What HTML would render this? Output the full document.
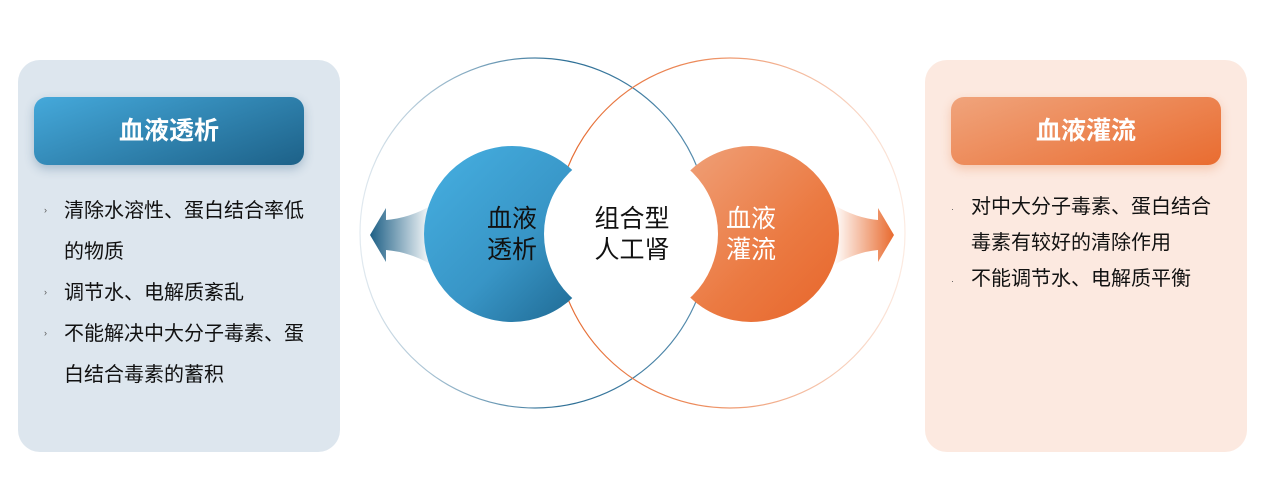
<!DOCTYPE html>
<html><head><meta charset="utf-8"><style>
*{margin:0;padding:0;box-sizing:border-box}
body{width:1269px;height:484px;background:#fff;position:relative;overflow:hidden;font-family:"Liberation Sans","Noto Sans CJK SC",sans-serif}
.box{position:absolute;top:60px;width:322px;height:392px;border-radius:22px}
.hd{position:absolute;top:37px;left:16px;width:270px;height:68px;border-radius:13px;color:#fff;font-weight:bold;font-size:25px;text-align:center;line-height:68px}
.li{position:absolute;font-size:20px;color:#111;white-space:nowrap}
.dot{position:absolute;font-size:9px;color:#555}
</style></head><body>
<div class="box" style="left:18px;background:#dde6ee">
  <div class="hd" style="background:linear-gradient(160deg,#45a9db,#1d6188);box-shadow:0 4px 10px rgba(40,90,130,.3)">血液透析</div>
</div>
<div class="li" style="left:64px;top:191px;line-height:41px">清除水溶性、蛋白结合率低<br>的物质<br>调节水、电解质紊乱<br>不能解决中大分子毒素、蛋<br>白结合毒素的蓄积</div>
<div class="dot" style="left:44px;top:205px">›</div>
<div class="dot" style="left:44px;top:287px">›</div>
<div class="dot" style="left:44px;top:328px">›</div>

<div class="box" style="left:925px;background:#fce9e0">
  <div class="hd" style="left:26px;top:37px;width:270px;background:linear-gradient(160deg,#f0a47c,#e96c30);box-shadow:0 4px 10px rgba(230,120,60,.3)">血液灌流</div>
</div>
<div class="li" style="left:971px;top:189px;line-height:36px">对中大分子毒素、蛋白结合<br>毒素有较好的清除作用<br>不能调节水、电解质平衡</div>
<div class="dot" style="left:951px;top:204px">·</div>
<div class="dot" style="left:951px;top:276px">·</div>

<svg width="1269" height="484" style="position:absolute;left:0;top:0">
<defs>
<linearGradient id="lc" x1="0" x2="1"><stop offset="0" stop-color="#e2eaf0"/><stop offset=".6" stop-color="#2c6e95"/><stop offset="1" stop-color="#5a8fb0"/></linearGradient>
<linearGradient id="rc" x1="0" x2="1"><stop offset="0" stop-color="#e56a30"/><stop offset=".4" stop-color="#ec8a5a"/><stop offset="1" stop-color="#fcebe2"/></linearGradient>
<linearGradient id="la" x1="0" x2="1"><stop offset="0" stop-color="#1d5f85"/><stop offset="1" stop-color="#1d5f85" stop-opacity="0"/></linearGradient>
<linearGradient id="ra" x1="1" x2="0"><stop offset="0" stop-color="#e86a2e"/><stop offset="1" stop-color="#e86a2e" stop-opacity="0"/></linearGradient>
<linearGradient id="bc" x1="0" y1="0" x2="1" y2="1"><stop offset="0" stop-color="#46b0e2"/><stop offset=".55" stop-color="#3895c6"/><stop offset="1" stop-color="#1b628a"/></linearGradient>
<linearGradient id="oc" x1="0" y1="0" x2="1" y2="1"><stop offset="0" stop-color="#f0a57f"/><stop offset=".6" stop-color="#eb7a42"/><stop offset="1" stop-color="#e7652a"/></linearGradient>
</defs>
<circle cx="535" cy="233" r="175" fill="none" stroke="url(#lc)" stroke-width="1.2"/>
<circle cx="730" cy="233" r="175" fill="none" stroke="url(#rc)" stroke-width="1.2"/>
<path d="M370 235 L386 208 L386 220 Q410 218 432 205 L432 265 Q410 252 386 250 L386 262 Z" fill="url(#la)"/>
<path d="M894 235 L878 208 L878 220 Q856 218 834 205 L834 265 Q856 252 878 250 L878 262 Z" fill="url(#ra)"/>
<circle cx="512" cy="234" r="88" fill="url(#bc)"/>
<circle cx="751" cy="234" r="88" fill="url(#oc)"/>
<circle cx="631" cy="234" r="87" fill="#fff"/>
<g font-family="Liberation Sans,Noto Sans CJK SC,sans-serif" font-size="25" text-anchor="middle">
<text x="512" y="227" fill="#111">血液</text><text x="512" y="258" fill="#111">透析</text>
<text x="632" y="227" fill="#111">组合型</text><text x="632" y="258" fill="#111">人工肾</text>
<text x="751" y="227" fill="#fff">血液</text><text x="751" y="258" fill="#fff">灌流</text>
</g>
</svg>
</body></html>
